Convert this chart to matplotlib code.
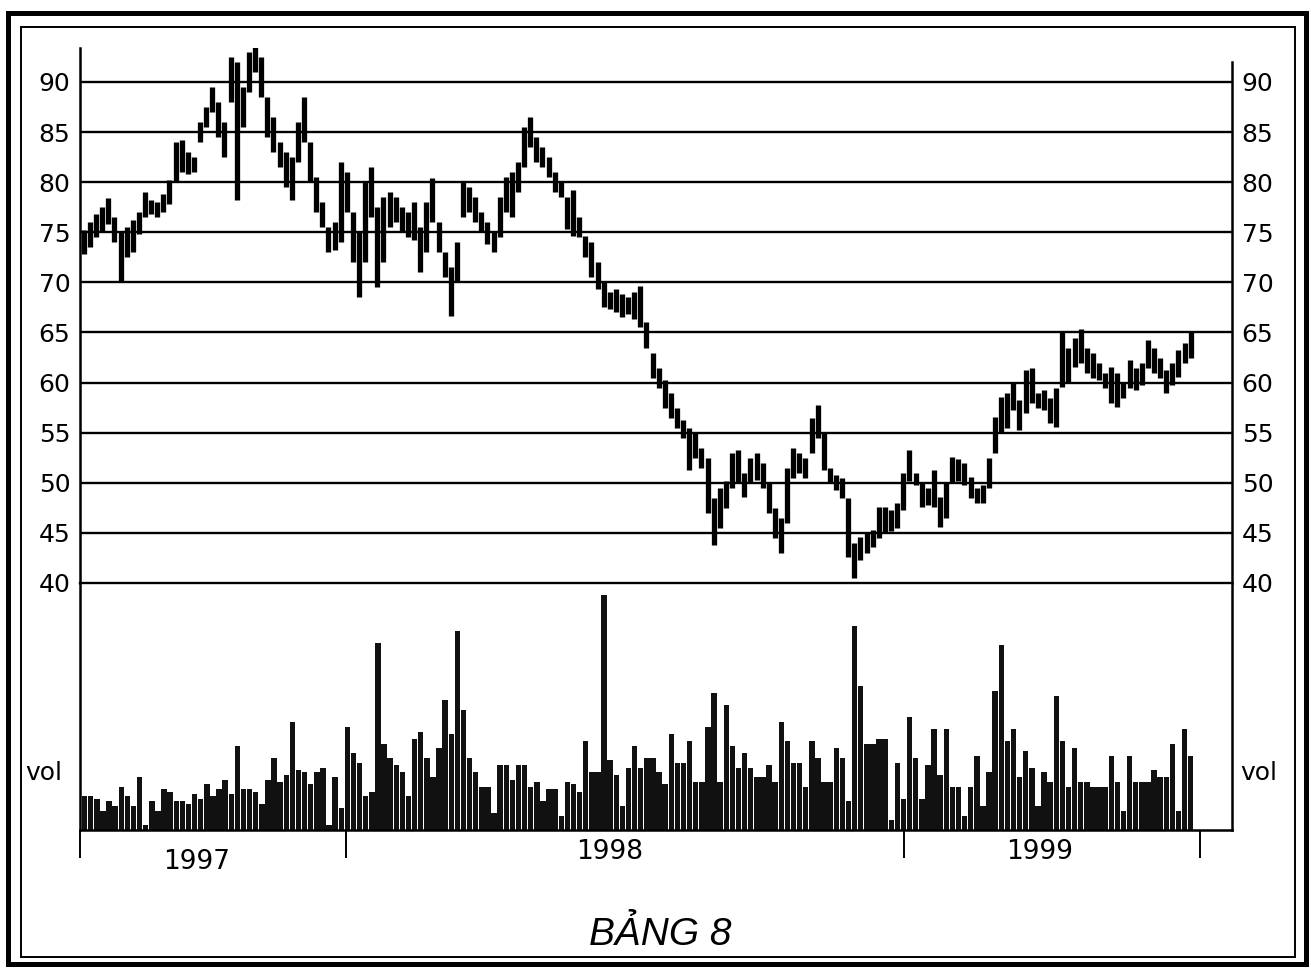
import numpy as np
import pandas as pd
import matplotlib
matplotlib.use("Agg")
import matplotlib.pyplot as plt
import matplotlib.dates as mdates
from matplotlib.patches import Rectangle

plt.rcParams['font.family'] = ['DejaVu Sans']

# ---------------- data ----------------
start_date = "1997-07-14"
bar_step = "4D"

high = [75.2, 76.0, 76.8, 77.5, 78.4, 76.5, 75.0, 75.5, 76.2, 77.0,
        79.0, 78.2, 78.0, 78.8, 80.2, 84.0, 84.2, 83.0, 82.5, 86.0,
        87.5, 89.5, 88.0, 86.0, 92.5, 92.0, 89.5, 93.0, 94.5, 92.5,
        88.5, 86.5, 84.0, 83.0, 82.5, 86.0, 88.5, 84.0, 80.5, 78.0,
        75.5, 76.0, 82.0, 81.0, 77.0, 75.0, 80.0, 81.5, 77.5, 78.5,
        79.0, 78.5, 77.5, 77.0, 78.0, 75.5, 78.0, 80.4, 76.0, 73.0,
        71.5, 74.0, 80.0, 79.5, 78.5, 77.0, 76.0, 75.0, 78.5, 80.5,
        81.0, 82.0, 85.5, 86.5, 84.5, 83.5, 82.5, 81.0, 80.0, 78.5,
        79.2, 76.5, 74.6, 74.0, 72.0, 70.0, 69.0, 69.3, 68.8, 68.5,
        69.0, 69.6, 66.0, 63.0, 61.5, 60.3, 59.0, 57.5, 56.3, 55.5,
        55.0, 53.5, 52.5, 48.5, 49.5, 50.2, 53.0, 53.3, 51.0, 52.5,
        53.0, 52.0, 50.0, 47.5, 46.5, 51.5, 53.5, 53.0, 52.5, 56.5,
        57.8, 55.0, 51.5, 50.8, 50.5, 48.5, 44.0, 44.6, 45.0, 45.3,
        47.6, 47.6, 47.3, 48.0, 51.0, 53.3, 51.0, 50.0, 49.5, 51.3,
        48.6, 50.0, 52.6, 52.4, 52.0, 50.6, 49.5, 49.8, 52.5, 56.6,
        58.6, 59.0, 60.0, 58.3, 61.3, 61.5, 59.0, 59.3, 58.5, 59.5,
        65.0, 63.5, 64.5, 65.3, 63.5, 63.0, 62.0, 61.0, 61.6, 61.0,
        60.0, 62.3, 61.5, 62.0, 64.3, 63.5, 62.5, 61.3, 62.0, 63.3,
        64.0, 65.0]

low = [72.8, 73.5, 74.5, 75.0, 75.8, 74.0, 70.0, 72.5, 73.0, 74.8,
       76.5, 76.8, 76.5, 77.0, 77.8, 80.0, 81.0, 80.8, 81.0, 84.0,
       85.5, 87.0, 84.5, 82.5, 88.0, 78.2, 85.5, 89.0, 91.0, 88.5,
       84.5, 83.0, 81.5, 79.5, 78.2, 82.0, 84.0, 80.0, 77.0, 75.5,
       73.0, 73.2, 74.0, 77.0, 72.0, 68.5, 72.0, 76.5, 69.5, 72.0,
       75.5, 76.0, 75.0, 74.5, 74.2, 71.0, 73.0, 76.0, 73.0, 70.5,
       66.6, 70.0, 76.5, 77.0, 76.0, 75.0, 73.8, 73.0, 74.5, 77.0,
       76.5, 79.0, 81.5, 83.5, 82.0, 81.5, 80.5, 79.0, 78.5, 75.3,
       74.6, 74.5, 72.5, 70.5, 69.3, 67.5, 67.3, 67.0, 66.5, 66.8,
       66.3, 65.5, 63.5, 60.5, 59.5, 57.5, 56.5, 55.5, 54.5, 51.3,
       52.5, 51.5, 47.0, 43.8, 45.5, 47.5, 49.5, 50.0, 48.6, 50.0,
       50.3, 49.5, 47.0, 44.5, 43.0, 46.0, 50.5, 51.0, 50.5, 53.0,
       54.5, 51.3, 50.0, 49.3, 48.5, 42.6, 40.5, 42.3, 43.0, 43.6,
       44.5, 45.0, 45.2, 45.5, 47.3, 50.2, 49.8, 47.6, 47.8, 47.6,
       45.6, 46.5, 50.0, 50.2, 49.8, 48.5, 48.0, 48.0, 49.5, 53.0,
       55.0, 55.5, 57.3, 55.3, 57.0, 58.0, 57.5, 57.3, 56.0, 55.6,
       59.6, 60.0, 61.6, 62.0, 61.0, 60.5, 60.3, 59.5, 58.0, 57.6,
       58.5, 59.5, 59.3, 59.8, 61.5, 61.0, 60.5, 59.0, 59.8, 60.6,
       62.0, 62.5]

vol = [14, 14, 13, 8, 12, 10, 18, 14, 10, 22,
       2, 12, 8, 17, 16, 12, 12, 11, 15, 13,
       19, 14, 17, 21, 15, 35, 17, 17, 16, 11,
       21, 30, 20, 23, 45, 25, 24, 19, 24, 26,
       2, 22, 9, 43, 32, 28, 14, 16, 78, 36,
       30, 27, 24, 14, 38, 41, 30, 22, 34, 54,
       40, 83, 50, 30, 24, 18, 18, 7, 27, 27,
       21, 27, 27, 18, 20, 12, 17, 17, 6, 20,
       19, 16, 37, 24, 24, 98, 29, 23, 10, 26,
       35, 26, 30, 30, 24, 19, 40, 28, 28, 37,
       20, 20, 43, 57, 20, 52, 35, 26, 32, 26,
       22, 22, 27, 20, 45, 37, 28, 28, 18, 37,
       30, 20, 20, 34, 30, 12, 85, 60, 36, 36,
       38, 38, 4, 28, 13, 47, 30, 13, 27, 42,
       23, 42, 18, 18, 6, 18, 31, 10, 24, 58,
       77, 37, 42, 22, 33, 26, 10, 24, 20, 56,
       37, 18, 34, 20, 20, 18, 18, 18, 31, 20,
       8, 31, 20, 20, 20, 25, 22, 22, 36, 8,
       42, 31]

price_levels = [40, 45, 50, 55, 60, 65, 70, 75, 80, 85, 90]
year_labels = ["1997", "1998", "1999"]
year_marks = ["1997-07-11", "1998-01-01", "1999-01-01", "1999-07-14"]
title = "BẢNG 8"

# ---------------- figure ----------------
W, H = 1311, 969
fig = plt.figure(figsize=(W / 100, H / 100), dpi=100)

def fx(px):
    return px / W

def fy(py):
    return 1 - py / H

dates = pd.date_range(start_date, periods=len(high), freq=bar_step)
xnum = mdates.date2num(dates.to_pydatetime())
x_left = mdates.date2num(pd.Timestamp("1997-07-11 12:00").to_pydatetime())
x_right = mdates.date2num(pd.Timestamp("1999-08-04").to_pydatetime())

ax_left_px, ax_right_px = 80, 1232
top_px, mid_px, bot_px = 48, 583, 830

axp = fig.add_axes([fx(ax_left_px), fy(mid_px), fx(ax_right_px - ax_left_px),
                    (mid_px - top_px) / H])
axv = fig.add_axes([fx(ax_left_px), fy(bot_px), fx(ax_right_px - ax_left_px),
                    (bot_px - mid_px) / H])

# price panel
ymax = 90 + (82 - top_px) / 10.022
axp.set_ylim(40, ymax)
axp.set_xlim(x_left, x_right)
for lv in price_levels[1:]:
    axp.axhline(lv, color='black', lw=1.7, zorder=1)
axp.vlines(xnum, low, high, color='black', lw=3.8, zorder=3)
axp.set_yticks(price_levels)
axp.set_yticklabels([str(v) for v in price_levels])
axp.tick_params(axis='y', length=0, labelsize=18, pad=7,
                labelleft=True, labelright=True)
axp.tick_params(axis='x', bottom=False, labelbottom=False)
for s in ['top', 'bottom']:
    axp.spines[s].set_visible(False)
axp.spines['left'].set_linewidth(1.8)
axp.spines['right'].set_linewidth(1.8)
axp.spines['right'].set_bounds(40, 90 + (82 - 62) / 10.022)

# volume panel
axv.set_xlim(x_left, x_right)
axv.set_ylim(0, (bot_px - mid_px) / 2.4)
axv.bar(xnum, vol, width=3.6, color='#111111', align='center', zorder=2)
axv.set_yticks([])
for s in ['top', 'bottom', 'left', 'right']:
    axv.spines[s].set_linewidth(1.8)
axv.spines['top'].set_linewidth(1.7)
tick_pos = mdates.date2num([pd.Timestamp(d).to_pydatetime() for d in year_marks])
axv.set_xticks(tick_pos)
axv.set_xticklabels([''] * len(tick_pos))
axv.tick_params(axis='x', length=20, width=1.4, direction='out', color='black')

# year labels
fig.text(fx(197), fy(862), year_labels[0], ha='center', va='center', fontsize=19)
fig.text(fx(610), fy(852), year_labels[1], ha='center', va='center', fontsize=19)
fig.text(fx(1040), fy(852), year_labels[2], ha='center', va='center', fontsize=19)

# vol labels
fig.text(fx(62), fy(773), "vol", ha='right', va='center', fontsize=18)
fig.text(fx(1240), fy(773), "vol", ha='left', va='center', fontsize=18)

# title
fig.text(fx(660), fy(935), title, ha='center', va='center', fontsize=28,
         style='italic',
         family=['Liberation Sans Narrow', 'Liberation Sans', 'DejaVu Sans'])

# frames
fig.add_artist(Rectangle((fx(8), fy(964)), fx(1306 - 8), (964 - 13) / H,
                         transform=fig.transFigure, fill=False, lw=3.6,
                         edgecolor='black'))
fig.add_artist(Rectangle((fx(21), fy(957)), fx(1295 - 21), (957 - 27) / H,
                         transform=fig.transFigure, fill=False, lw=1.4,
                         edgecolor='black'))

fig.savefig("out.png", dpi=100, facecolor='white')
